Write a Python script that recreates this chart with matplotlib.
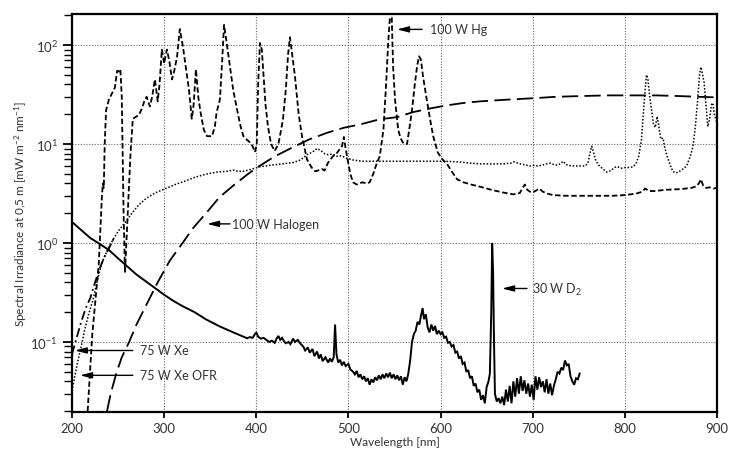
import matplotlib
matplotlib.use('Agg')
import matplotlib.pyplot as plt
from matplotlib.ticker import LogLocator, FixedLocator, NullFormatter

# ---------------- data ----------------
hg_wl = [217, 222, 226, 229, 231, 232.5, 233.5, 234.5, 235.5, 237, 240, 243, 246.5, 249, 251, 252.5,
         254, 256, 257.5, 259, 261, 263.5, 266, 270, 273, 276, 279, 281, 284.5, 287, 290, 293, 295,
         297.5, 300, 303, 305.5, 308.5, 311, 314, 317, 320.5, 324, 327, 330, 332, 334.5, 337, 339.5,
         343, 346.5, 352, 355, 357, 360.5, 363, 365, 367, 371.5, 375, 379, 383, 386, 390, 393, 396,
         398.6, 400.5, 402, 404, 406, 407.5, 410, 412.7, 416, 420, 424, 427, 429, 432, 434.5, 436.5,
         439, 442, 446, 449.6, 455, 460, 464, 467, 471, 474, 478, 483, 487, 491, 493, 495, 497, 498.5,
         502, 505, 509, 515, 520, 523, 527, 531, 534, 538, 541, 543, 545, 547, 548.5, 550.6, 554,
         556.5, 559, 561, 563.6, 566, 569, 572, 574.5, 576.6, 578.5, 581, 584.5, 588.5, 592, 597, 602,
         607, 612, 618, 625, 633, 643, 655, 667, 679, 686, 689, 691.5, 694, 697, 700, 704, 707, 711,
         716, 722, 735, 751, 770, 787, 800, 812, 819, 822, 826, 832, 845, 860, 872, 878, 881, 882.6,
         885, 888, 892, 896, 900]
hg_val = [0.02, 0.12, 0.3, 0.6, 1.5, 3.0, 4.0, 3.6, 10, 22, 28, 32, 37, 55, 54, 57,
          30, 2, 0.5, 1.0, 2.5, 8, 18, 19, 20, 23, 28, 30, 24, 30, 45, 27, 40,
          90, 65, 90, 70, 45, 55, 76, 145, 95, 55, 35, 18, 25, 57, 30, 21,
          14, 12, 12, 15, 21, 28, 70, 160, 120, 60, 35, 22.6, 15, 12, 11, 10.4, 9.5,
          8.3, 10, 40, 105, 90, 55, 25, 15, 10, 8.5, 10, 14, 18, 35, 80, 120,
          80, 48, 20, 12, 7, 5.8, 5.3, 5.4, 5.6, 5.4, 6.5, 7.5, 8, 9, 9.5, 11.8, 9, 7.5,
          5, 4.1, 3.9, 4.1, 4.0, 4.1, 5, 6.5, 7.5, 14, 42, 100, 190, 190, 60, 28, 14,
          11.5, 10.4, 10, 10, 14, 22, 40, 61, 77, 72, 48, 30, 18, 12, 8.2, 7,
          6.3, 5.3, 4.4, 4.1, 3.9, 3.7, 3.45, 3.25, 3.1, 3.2, 3.6, 3.9, 3.45, 3.3, 3.25, 3.4, 3.55, 3.3,
          3.15, 3.05, 3.0, 3.0, 3.0, 3.0, 3.05, 3.15, 3.3, 3.55, 3.35, 3.35, 3.45, 3.5, 3.6, 3.75, 4.1, 4.4,
          3.8, 3.6, 3.65, 3.55, 3.6]

xeofr_wl = [200, 203, 206.5, 210, 214, 218, 223, 228, 233, 239, 245, 251, 257.5, 265, 272, 280, 290,
            300, 312, 322, 333, 345, 357, 368, 375, 380, 386, 393, 404, 415, 428, 440, 448, 455, 461,
            466, 470, 474, 478, 483, 488, 492, 498, 505, 515, 530, 548, 565, 585, 603, 620, 633, 643,
            655, 668, 676, 680, 684, 690, 697, 701, 705, 710, 715, 719, 723, 727, 731, 733, 736, 742,
            750, 757, 760, 762, 764, 766, 768, 771, 776, 780.6, 785, 789, 792, 796, 801, 806, 809, 812,
            815, 818, 820, 822, 823.5, 825, 827, 829, 831, 833, 835, 837, 839, 841.5, 843, 845.7, 849,
            852, 855, 858, 862, 867, 871, 874, 876.5, 879, 881, 882.5, 884, 886, 888, 890, 892, 894,
            895.5, 897, 900]
xeofr_val = [0.032, 0.045, 0.065, 0.09, 0.135, 0.19, 0.27, 0.44, 0.65, 0.87, 1.1, 1.35, 1.6, 2.0, 2.4,
             2.8, 3.2, 3.5, 3.9, 4.2, 4.6, 4.95, 5.2, 5.3, 5.45, 5.3, 5.3, 5.5, 5.9, 6.1, 6.3, 6.5, 6.9,
             7.8, 8.3, 9.0, 8.6, 8.0, 7.8, 7.9, 7.5, 7.6, 7.2, 6.9, 6.7, 6.7, 6.7, 6.7, 6.7, 6.7, 6.6,
             6.4, 6.3, 6.3, 6.3, 6.4, 6.6, 6.4, 6.2, 6.0, 6.1, 6.0, 6.1, 6.3, 6.4, 6.2, 6.1, 6.4, 6.7,
             6.2, 6.0, 6.0, 6.0, 6.5, 8.0, 9.5, 8.3, 7.0, 6.2, 5.6, 5.2, 5.4, 5.8, 5.9, 5.7, 5.8, 5.8,
             5.9, 6.3, 7.5, 11, 20, 35, 50, 45, 30, 22, 16, 14.7, 19, 15, 11.2, 11.5, 9.5, 7.6, 6.2,
             5.3, 5.1, 5.2, 5.5, 6.0, 7.5, 9.5, 15, 28, 50, 60, 52, 42, 25, 15, 18, 25, 26, 20, 16.5]

xe_wl = [200, 205, 210, 215, 220, 225, 230, 235, 240, 245]
xe_val = [0.075, 0.11, 0.16, 0.22, 0.28, 0.4, 0.55, 0.72, 0.88, 1.1]

hal_wl = [238, 242, 248, 254, 262, 270, 281, 293, 306, 320, 331, 346.5, 360, 375, 390, 401, 420, 440,
          458, 477, 495, 513, 534, 553, 570, 590, 607, 625, 643, 670, 700, 725, 751, 780, 806, 835,
          860, 880, 900]
hal_val = [0.02, 0.03, 0.048, 0.07, 0.1, 0.15, 0.24, 0.4, 0.66, 1.0, 1.4, 2.05, 2.9, 3.8, 4.9, 5.8,
           7.5, 9.3, 11.2, 13, 14.6, 15.8, 17.8, 18.7, 21, 23, 24.6, 26, 27, 28, 29, 30, 30.5, 31, 31,
           31, 30.5, 30, 29.6]

d2_wl = [200, 210, 220, 230, 240, 250, 260, 270, 280, 290, 300, 310, 320, 333, 345, 360, 375, 390,
         393, 396, 398, 400, 402, 405, 408, 411, 414, 417, 420, 422, 424, 426, 428, 430, 432, 435,
         437, 440, 442, 445, 448, 451, 453, 456, 458, 461, 463, 466, 468, 470, 472, 475, 478, 480,
         482, 484, 485.5, 487, 489, 491, 493, 495, 497, 500, 502, 505, 507, 509, 511, 513, 515, 517,
         519, 521, 523, 525, 527, 529, 531, 533, 535, 537, 539, 541, 543, 545, 547, 549, 551, 553,
         555, 557, 559, 561, 563, 565, 567, 569, 571, 573, 575, 577, 579, 580.5, 582, 584, 586, 588,
         590, 592, 594, 596, 598, 600, 602, 604, 606, 608, 610, 612, 614, 616, 618, 620, 622, 624,
         626, 628, 630, 632, 634, 636, 638, 640, 642, 644, 646, 648, 650, 652, 653.5, 655, 656, 657,
         658, 659, 661, 663, 665, 667, 669, 671, 673, 675, 677, 679, 681, 683, 685, 687, 689, 691,
         693, 695, 697, 699, 701, 703, 705, 707, 709, 711, 713, 715, 717, 719, 721, 723, 725, 727,
         729, 731, 733, 735, 737, 739, 741, 743, 745, 747, 749, 751]
d2_val = [1.63, 1.35, 1.12, 0.98, 0.85, 0.7, 0.58, 0.48, 0.41, 0.35, 0.3, 0.26, 0.23, 0.2, 0.17, 0.144,
          0.125, 0.109, 0.112, 0.11, 0.118, 0.125, 0.113, 0.108, 0.11, 0.105, 0.1, 0.103, 0.098,
          0.108, 0.115, 0.105, 0.11, 0.102, 0.097, 0.1, 0.095, 0.108, 0.1, 0.105, 0.096, 0.09, 0.082,
          0.088, 0.078, 0.085, 0.072, 0.08, 0.068, 0.075, 0.064, 0.07, 0.062, 0.068, 0.063, 0.07,
          0.15, 0.075, 0.062, 0.066, 0.058, 0.063, 0.057, 0.06, 0.053, 0.05, 0.047, 0.051, 0.044,
          0.047, 0.042, 0.045, 0.04, 0.043, 0.037, 0.042, 0.039, 0.044, 0.041, 0.046, 0.042, 0.047,
          0.043, 0.048, 0.044, 0.049, 0.043, 0.047, 0.042, 0.046, 0.041, 0.045, 0.037, 0.044, 0.04,
          0.048, 0.065, 0.1, 0.12, 0.13, 0.16, 0.15, 0.19, 0.22, 0.17, 0.19, 0.14, 0.125, 0.15, 0.13,
          0.145, 0.12, 0.13, 0.12, 0.125, 0.11, 0.113, 0.098, 0.1, 0.09, 0.093, 0.078, 0.08, 0.068,
          0.072, 0.06, 0.062, 0.05, 0.052, 0.043, 0.045, 0.036, 0.038, 0.031, 0.033, 0.026, 0.029,
          0.024, 0.035, 0.04, 0.048, 0.2, 1.0, 0.5, 0.1, 0.03, 0.025, 0.027, 0.024, 0.028, 0.023,
          0.033, 0.025, 0.036, 0.024, 0.04, 0.028, 0.043, 0.03, 0.045, 0.032, 0.041, 0.03, 0.038,
          0.028, 0.037, 0.026, 0.045, 0.033, 0.044, 0.035, 0.04, 0.031, 0.042, 0.03, 0.038, 0.029,
          0.036, 0.042, 0.05, 0.048, 0.055, 0.052, 0.065, 0.058, 0.06, 0.045, 0.04, 0.037, 0.043,
          0.042, 0.048]

x_ticks = [200, 300, 400, 500, 600, 700, 800, 900]
y_ticks = [0.1, 1, 10, 100]
y_ticklabels = ['$10^{-1}$', '$10^{0}$', '$10^{1}$', '$10^{2}$']

# ---------------- style ----------------
plt.rcParams['font.family'] = ['Lato', 'DejaVu Sans']
plt.rcParams['mathtext.fontset'] = 'custom'
plt.rcParams['mathtext.rm'] = 'Lato'
plt.rcParams['mathtext.it'] = 'Lato'
plt.rcParams['mathtext.default'] = 'regular'

fig = plt.figure(figsize=(7.3, 4.52), dpi=100)
ax = fig.add_axes([72/730, 1-413/452, (717-72)/730, (413-15)/452])

lw = 1.3
ax.plot(hal_wl, hal_val, color='black', lw=lw, dashes=(9, 3.5))
ax.plot(hg_wl, hg_val, color='black', lw=lw, dashes=(3, 1.5))
ax.plot(xeofr_wl, xeofr_val, color='black', lw=1.1, dashes=(1, 1.2))
ax.plot(xe_wl, xe_val, color='black', lw=lw, dashes=(5, 2, 1, 2))
ax.plot(d2_wl, d2_val, color='black', lw=1.4, solid_joinstyle='miter')

ax.set_yscale('log')
ax.set_xlim(200, 900)
ax.set_ylim(0.0196, 206)

ax.xaxis.set_major_locator(FixedLocator(x_ticks))
ax.set_xticklabels([str(t) for t in x_ticks])
ax.yaxis.set_major_locator(FixedLocator(y_ticks))
ax.set_yticklabels(y_ticklabels)
ax.yaxis.set_minor_locator(LogLocator(base=10, subs=range(2, 10)))
ax.yaxis.set_minor_formatter(NullFormatter())

ax.grid(True, which='major', color='#666666', linestyle=(0, (1, 1.5)), linewidth=0.8)
ax.tick_params(axis='both', which='major', labelsize=9.5, colors='black', width=1.3, length=6.5,
               direction='out', labelcolor='#333333')
ax.tick_params(axis='y', which='minor', width=1.0, length=6, direction='out')
ax.tick_params(axis='x', length=4)
for s in ax.spines.values():
    s.set_linewidth(1.6)
    s.set_color('black')

ax.set_xlabel('Wavelength [nm]', fontsize=8.5, color='#333333', labelpad=1)
ax.set_ylabel('Spectral Irradiance at 0,5 m [mW m$^{-2}$ nm$^{-1}$]', fontsize=8.5,
              color='#333333', labelpad=1)

arrow = dict(arrowstyle='-|>,head_length=0.7,head_width=0.18', color='black', lw=1.0,
             shrinkA=0, shrinkB=0)
labels = [
    ('100 W Hg', 552.7, 580, 588.5, 144),
    ('100 W Halogen', 346.5, 371.5, 373.6, 1.56),
    ('75 W Xe', 203, 266, 273.8, 0.082),
    ('75 W Xe OFR', 208.7, 266, 273.8, 0.046),
    ('30 W D$_2$', 666.7, 693.8, 699, 0.347),
]
for txt, xh, xt, xtxt, yv in labels:
    ax.annotate('', xy=(xh, yv), xytext=(xt, yv), arrowprops=arrow)
    ax.text(xtxt, yv, txt, fontsize=9, va='center', ha='left', color='#333333')

fig.savefig('out.png', dpi=100)
